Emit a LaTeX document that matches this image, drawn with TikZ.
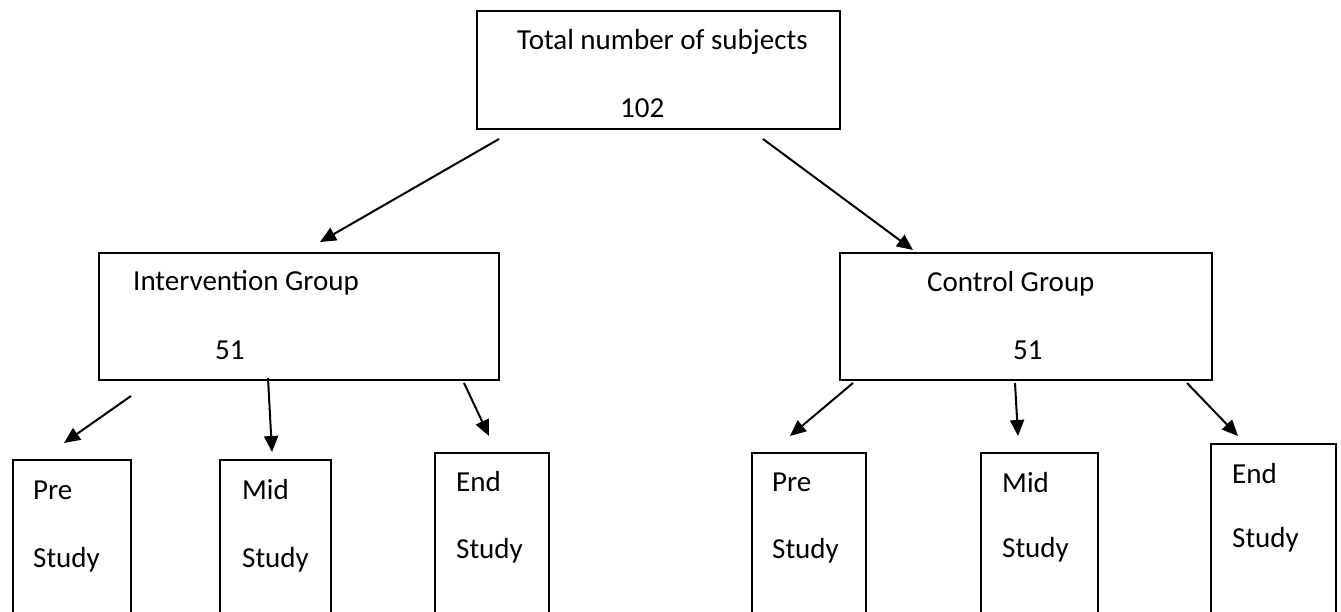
\documentclass[tikz,border=0pt]{standalone}
\usepackage{fontspec}
\setmainfont{Carlito}
\usetikzlibrary{arrows.meta,calc}
\begin{document}
\begin{tikzpicture}[x=1pt,y=-1pt,
  box/.style={draw, line width=2pt, inner sep=0pt, anchor=north west},
  lbl/.style={anchor=base west, inner sep=0pt, font=\fontsize{29}{35}\selectfont},
  arr/.style={line width=2pt, -{Triangle[length=16pt,width=14pt]}}]
\useasboundingbox (0,0) rectangle (1341,611);
\clip (0,0) rectangle (1341,611);

% boxes
\node[box, minimum width=363pt, minimum height=118pt] (total) at (476,10) {};
\node[box, minimum width=400pt, minimum height=127pt] (igrp) at (98,252) {};
\node[box, minimum width=372pt, minimum height=127pt] (cgrp) at (839,252) {};
\node[box, minimum width=118pt, minimum height=200pt] (ipre) at (12,459) {};
\node[box, minimum width=111pt, minimum height=200pt] (imid) at (219,459) {};
\node[box, minimum width=114pt, minimum height=200pt] (iend) at (434,452) {};
\node[box, minimum width=114pt, minimum height=200pt] (cpre) at (751,452) {};
\node[box, minimum width=117pt, minimum height=200pt] (cmid) at (980,452) {};
\node[box, minimum width=125pt, minimum height=200pt] (cend) at (1210,443) {};

% labels
\node[lbl] (totalT) at (517,49) {Total number of subjects};
\node[lbl] (totalN) at (620,117) {102};
\node[lbl] (igrpT) at (133,290) {Intervention Group};
\node[lbl] (igrpN) at (215,359) {51};
\node[lbl] (cgrpT) at (927,291) {Control Group};
\node[lbl] (cgrpN) at (1013,359) {51};
\node[lbl] (ipreA) at (33,499) {Pre};
\node[lbl] (ipreB) at (33,567) {Study};
\node[lbl] (imidA) at (242,499) {Mid};
\node[lbl] (imidB) at (242,567) {Study};
\node[lbl] (iendA) at (456,491) {End};
\node[lbl] (iendB) at (456,558) {Study};
\node[lbl] (cpreA) at (772,491) {Pre};
\node[lbl] (cpreB) at (772,558) {Study};
\node[lbl] (cmidA) at (1002,492) {Mid};
\node[lbl] (cmidB) at (1002,557) {Study};
\node[lbl] (cendA) at (1232,483) {End};
\node[lbl] (cendB) at (1232,547) {Study};

% arrow end points, placed relative to the boxes
\coordinate (s1) at ($(total.south west)+(23,9)$);
\coordinate (s2) at ($(total.south west)+(287,9)$);
\coordinate (e1) at ($(igrp.north west)+(222,-10)$);
\coordinate (e2) at ($(cgrp.north west)+(74,-2)$);
\coordinate (s3) at ($(igrp.south west)+(33,15)$);
\coordinate (s4) at ($(igrp.south west)+(170,-3)$);
\coordinate (s5) at ($(igrp.south west)+(366,2)$);
\coordinate (e3) at ($(ipre.north west)+(52,-16)$);
\coordinate (e4) at ($(imid.north west)+(53,-7)$);
\coordinate (e5) at ($(iend.north west)+(55,-16)$);
\coordinate (s6) at ($(cgrp.south west)+(14,2)$);
\coordinate (s7) at ($(cgrp.south west)+(176,2)$);
\coordinate (s8) at ($(cgrp.south west)+(348,2)$);
\coordinate (e6) at ($(cpre.north west)+(39,-16)$);
\coordinate (e7) at ($(cmid.north west)+(38,-16)$);
\coordinate (e8) at ($(cend.north west)+(28,-7)$);

% connectors
\draw[arr] (s1) -- (e1);
\draw[arr] (s2) -- (e2);
\draw[arr] (s3) -- (e3);
\draw[arr] (s4) -- (e4);
\draw[arr] (s5) -- (e5);
\draw[arr] (s6) -- (e6);
\draw[arr] (s7) -- (e7);
\draw[arr] (s8) -- (e8);
\end{tikzpicture}
\end{document}
